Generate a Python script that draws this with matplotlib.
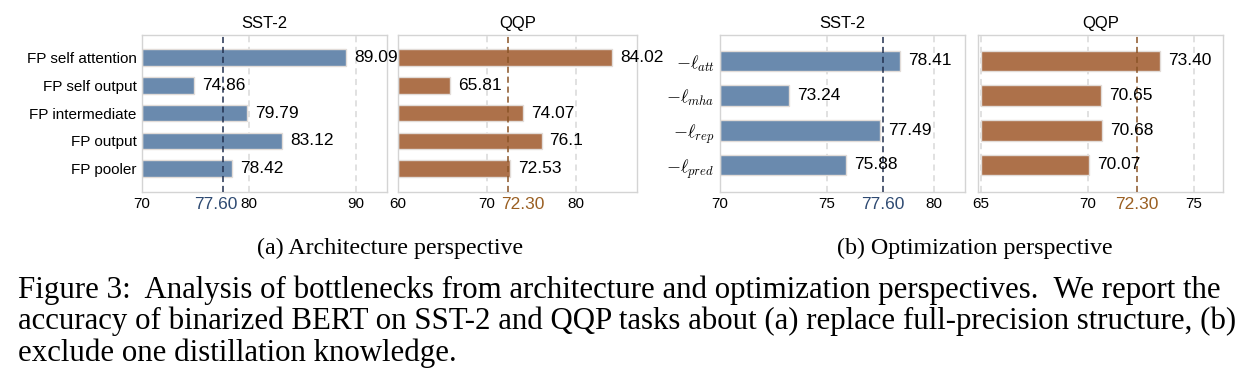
import matplotlib
matplotlib.use("Agg")
import matplotlib.pyplot as plt
import matplotlib.transforms as mtransforms

plt.rcParams['font.family'] = ['Liberation Sans', 'DejaVu Sans']
plt.rcParams['mathtext.fontset'] = 'cm'

# data
arch_labels = ["FP self attention", "FP self output", "FP intermediate", "FP output", "FP pooler"]
arch_sst2 = [89.09, 74.86, 79.79, 83.12, 78.42]
arch_qqp = [84.02, 65.81, 74.07, 76.1, 72.53]
arch_sst2_txt = ["89.09", "74.86", "79.79", "83.12", "78.42"]
arch_qqp_txt = ["84.02", "65.81", "74.07", "76.1", "72.53"]

opt_labels = [r"$-\ell_{att}$", r"$-\ell_{mha}$", r"$-\ell_{rep}$", r"$-\ell_{pred}$"]
opt_sst2 = [78.41, 73.24, 77.49, 75.88]
opt_qqp = [73.40, 70.65, 70.68, 70.07]
opt_sst2_txt = ["78.41", "73.24", "77.49", "75.88"]
opt_qqp_txt = ["73.40", "70.65", "70.68", "70.07"]

baseline_sst2 = 77.60
baseline_qqp = 72.30

blue = "#6a8aae"
brown = "#ad714a"
navy_line = "#22304f"
brown_line = "#8a5426"
navy_txt = "#2e4a72"
brown_txt = "#9a5f22"

fig = plt.figure(figsize=(12.45, 3.9), dpi=100)


def panel(rect, labels, vals, txts, xlim, ticks, color, base, line_c, txt_c, title, ylim,
          ylabsize, base_dx):
    ax = fig.add_axes(rect)
    y = list(range(len(vals)))
    ax.barh(y, [v - ticks[0] for v in vals], left=ticks[0], height=0.6,
            color=color, edgecolor="#e2dcd8", linewidth=1.0, zorder=2)
    ax.set_xlim(*xlim)
    ax.set_ylim(*ylim)
    ax.set_yticks(y)
    if labels is not None:
        ax.set_yticklabels(labels, fontsize=ylabsize)
    else:
        ax.set_yticklabels([])
    ax.set_xticks(ticks)
    ax.set_xticklabels([str(t) for t in ticks], fontsize=11)
    ax.tick_params(length=0, axis="x", pad=3.5)
    ax.tick_params(length=0, axis="y", pad=4)
    for t in ticks:
        ax.axvline(t, color="#d9d9d9", linestyle=(0, (4, 3)), linewidth=1.1, zorder=1)
    ax.axvline(base, color=line_c, linestyle=(0, (4, 2.5)), linewidth=1.1, zorder=3)
    for s in ax.spines.values():
        s.set_color("#d4d4d4")
        s.set_linewidth(1.0)
    off = mtransforms.offset_copy(ax.transData, fig=fig, x=8, y=0, units="dots")
    for yi, v, tx in zip(y, vals, txts):
        ax.text(v, yi, tx, transform=off, fontsize=12.5, va="center", ha="left", zorder=4)
    trans = mtransforms.blended_transform_factory(ax.transData, ax.transAxes)
    trans = mtransforms.offset_copy(trans, fig=fig, x=base_dx, y=0, units="dots")
    ax.text(base, -0.035, f"{base:.2f}", transform=trans, fontsize=12.5,
            color=txt_c, ha="center", va="top")
    ax.set_title(title, fontsize=12, pad=5)
    return ax


b = (390 - 192) / 390
h = 157 / 390
panel([142 / 1245, b, 245 / 1245, h], arch_labels, arch_sst2, arch_sst2_txt,
      (70, 92.9), [70, 80, 90], blue, baseline_sst2, navy_line, navy_txt, "SST-2", (4.83, -0.8), 11, -7)
panel([398 / 1245, b, 239 / 1245, h], None, arch_qqp, arch_qqp_txt,
      (60, 86.8), [60, 70, 80], brown, baseline_qqp, brown_line, brown_txt, "QQP", (4.83, -0.8), 11, 15)
panel([720 / 1245, b, 245 / 1245, h], opt_labels, opt_sst2, opt_sst2_txt,
      (70, 81.45), [70, 75, 80], blue, baseline_sst2, navy_line, navy_txt, "SST-2", (3.78, -0.75), 13, 0)
panel([978 / 1245, b, 245 / 1245, h], None, opt_qqp, opt_qqp_txt,
      (64.86, 76.36), [65, 70, 75], brown, baseline_qqp, brown_line, brown_txt, "QQP", (3.78, -0.75), 13, 0)

serif = ['Liberation Serif', 'DejaVu Serif']
fig.text(390 / 1245, 1 - 248 / 390, "(a) Architecture perspective", family=serif,
         fontsize=17.3, ha="center", va="center")
fig.text(975 / 1245, 1 - 248 / 390, "(b) Optimization perspective", family=serif,
         fontsize=17.3, ha="center", va="center")
cap = ["Figure 3:  Analysis of bottlenecks from architecture and optimization perspectives.  We report the",
       "accuracy of binarized BERT on SST-2 and QQP tasks about (a) replace full-precision structure, (b)",
       "exclude one distillation knowledge."]
for i, line in enumerate(cap):
    fig.text(18 / 1245, 1 - (290 + 31.5 * i) / 390, line, family=serif,
             fontsize=22.2, ha="left", va="center")

fig.savefig("out.png", dpi=100)
